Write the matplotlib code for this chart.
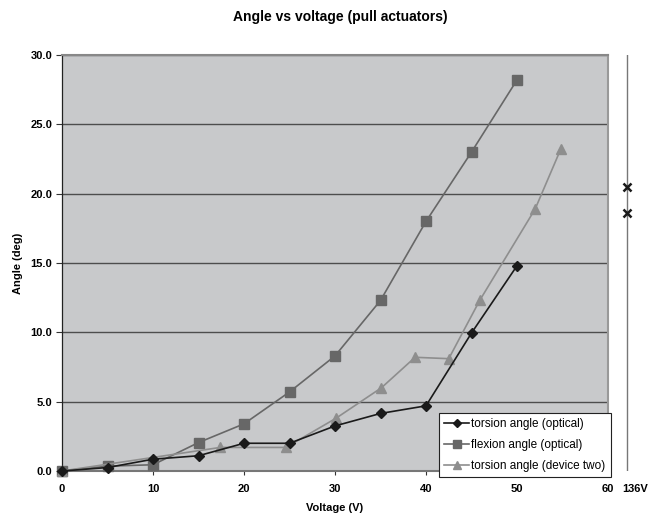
import matplotlib
matplotlib.use("Agg")
import matplotlib.pyplot as plt

plt.rcParams['font.family'] = ['Liberation Sans', 'DejaVu Sans']

title = "Angle vs voltage (pull actuators)"
xlabel = "Voltage (V)"
ylabel = "Angle (deg)"

torsion_v = [0, 5, 10, 15, 20, 25, 30, 35, 40, 45, 50]
torsion_a = [0, 0.25, 0.85, 1.1, 2.0, 2.0, 3.25, 4.15, 4.7, 9.95, 14.8]

flexion_v = [0, 5, 10, 15, 20, 25, 30, 35, 40, 45, 50]
flexion_a = [0, 0.35, 0.45, 2.05, 3.4, 5.7, 8.3, 12.3, 18.0, 23.0, 28.2]

dev2_v = [0, 17.4, 24.6, 30.1, 35.1, 38.8, 42.5, 45.9, 52.0, 54.8]
dev2_a = [0, 1.7, 1.7, 3.8, 6.0, 8.2, 8.1, 12.3, 18.9, 23.2]

far_label = "136V"
far_a = [20.5, 18.6]

xticks = [0, 10, 20, 30, 40, 50, 60]
yticks = [0, 5, 10, 15, 20, 25, 30]

fig = plt.figure(figsize=(6.6, 5.16), dpi=100)
ax = fig.add_axes([62/660, 1 - 471/516, (608 - 62)/660, (471 - 55)/516])
ax.set_facecolor('#c8c9cb')

ax.set_xlim(0, 60)
ax.set_ylim(0, 30)
ax.set_xticks(xticks)
ax.set_yticks(yticks)
ax.set_xticklabels([str(t) for t in xticks], fontweight='bold', fontsize=8)
ax.set_yticklabels([f"{t:.1f}" for t in yticks], fontweight='bold', fontsize=8)
ax.tick_params(axis='x', direction='out', length=3, width=0.8, color='#333333', pad=6)
ax.tick_params(axis='y', direction='out', length=4, width=0.8, color='#333333', pad=3)

for y in yticks[1:]:
    ax.axhline(y, color='#4d4d4d', lw=1.0, zorder=1)

ax.spines['left'].set_color('#222222')
ax.spines['left'].set_linewidth(0.9)
ax.spines['bottom'].set_color('#777777')
ax.spines['bottom'].set_linewidth(1.5)
ax.spines['top'].set_color('#888888')
ax.spines['top'].set_linewidth(1.5)
ax.spines['right'].set_color('#999999')
ax.spines['right'].set_linewidth(1.5)

ax.plot(torsion_v, torsion_a, color='#1a1a1a', marker='D', markersize=5, lw=1.2,
        label='torsion angle (optical)', zorder=4, clip_on=False)
ax.plot(flexion_v, flexion_a, color='#676767', marker='s', markersize=6.5, lw=1.2,
        label='flexion angle (optical)', zorder=3, clip_on=False)
ax.plot(dev2_v, dev2_a, color='#8e8e8e', marker='^', markersize=6.5, lw=1.2,
        label='torsion angle (device two)', zorder=3, clip_on=False)

ax.set_xlabel(xlabel, fontweight='bold', fontsize=8, labelpad=7)
ax.set_ylabel(ylabel, fontweight='bold', fontsize=8, labelpad=5)

fig.text(340/660, 1 - 17/516, title, ha='center', va='center', fontweight='bold', fontsize=10)

leg = ax.legend(loc='lower right', bbox_to_anchor=(611/660, 1 - 477/516), bbox_transform=fig.transFigure,
                fontsize=8.5, frameon=True, fancybox=False, borderpad=0.45, labelspacing=0.75,
                handlelength=2.1, handletextpad=0.2, borderaxespad=0, markerscale=0.85)
leg.get_frame().set_edgecolor('#222222')
leg.get_frame().set_linewidth(0.8)
leg.get_frame().set_facecolor('white')
leg.get_frame().set_alpha(1)

# far axis for 136V points
ax2 = fig.add_axes([620/660, 1 - 471/516, 14/660, (471 - 55)/516])
ax2.set_xlim(-1, 1)
ax2.set_ylim(0, 30)
ax2.axis('off')
ax2.axvline(0, color='#777777', lw=1.0, zorder=1)
ax2.plot([0] * len(far_a), far_a, linestyle='none', marker='x', color='#1a1a1a',
         markersize=6, markeredgewidth=1.8, clip_on=False, zorder=2)
fig.text(635/660, 1 - 489/516, far_label, ha='center', va='center', fontweight='bold', fontsize=8)

fig.savefig('out.png', dpi=100)
